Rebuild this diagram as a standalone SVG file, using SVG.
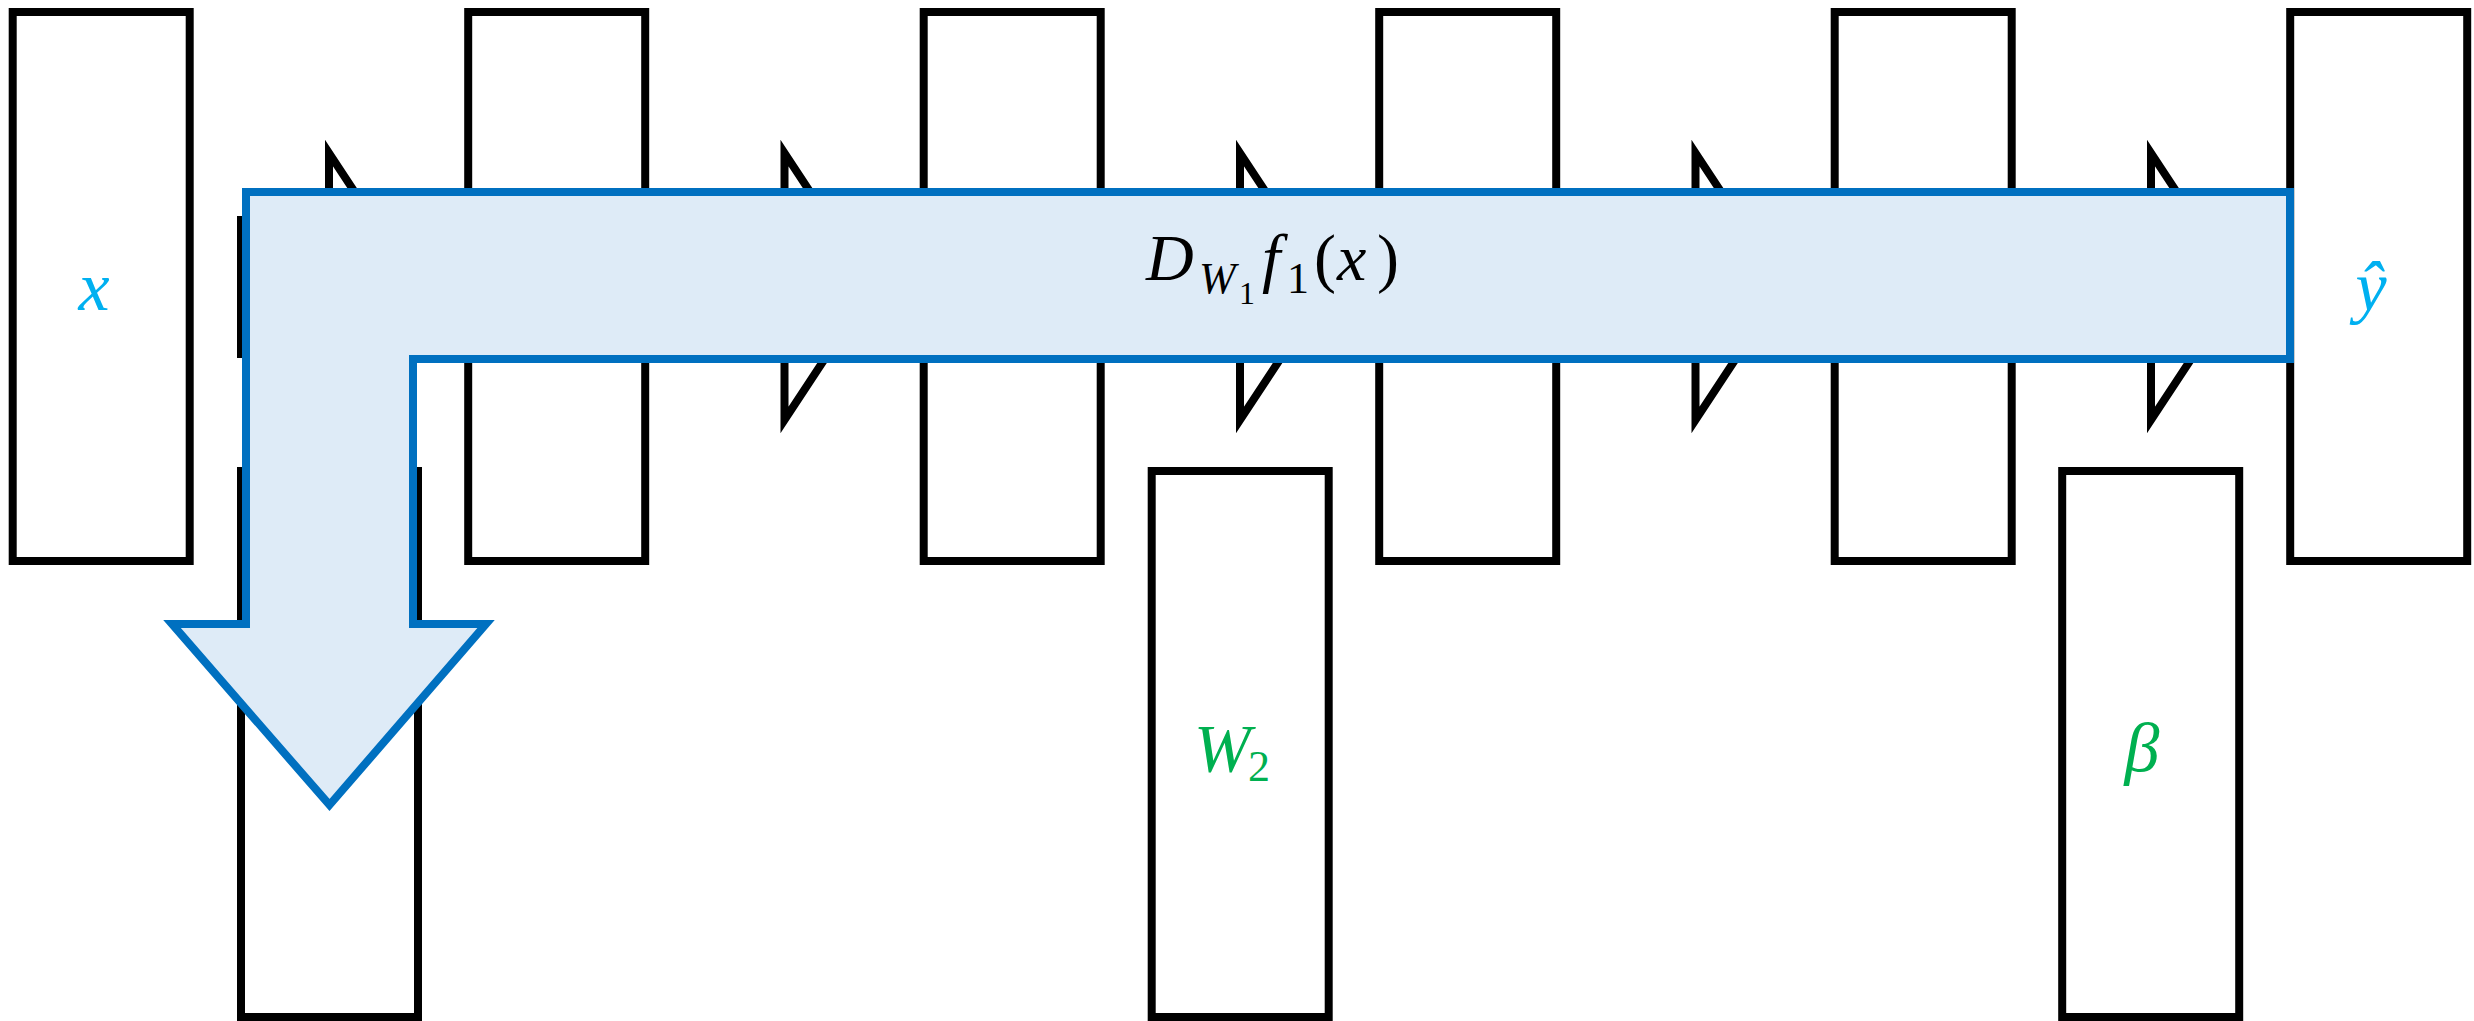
<svg xmlns="http://www.w3.org/2000/svg" width="2474" height="1021" viewBox="0 0 2474 1021">
  <style>
    .box { fill: #FFFFFF; stroke: #000000; stroke-width: 8; }
    .tri { fill: #FFFFFF; stroke: #000000; stroke-width: 8; stroke-linejoin: miter; stroke-miterlimit: 10; }
    .band { fill: #DEEBF7; stroke: #0070C0; stroke-width: 8; stroke-linejoin: miter; stroke-miterlimit: 10; }
    .math { font-family: "Liberation Serif", "DejaVu Serif", serif; font-style: italic; }
    .up { font-style: normal; }
    .blue { fill: #00B0F0; }
    .green { fill: #00B050; }
    .black { fill: #000000; }
  </style>

  <g id="node-x">
    <rect class="box" x="12.7" y="12" width="177" height="549"/>
    <text class="math blue" x="94" y="310" font-size="70" text-anchor="middle">x</text>
  </g>
  <g id="node-h1">
    <rect class="box" x="468.2" y="12" width="177" height="549"/>
  </g>
  <g id="node-h2">
    <rect class="box" x="923.7" y="12" width="177" height="549"/>
  </g>
  <g id="node-h3">
    <rect class="box" x="1379.2" y="12" width="177" height="549"/>
  </g>
  <g id="node-h4">
    <rect class="box" x="1834.7" y="12" width="177" height="549"/>
  </g>
  <g id="node-yhat">
    <rect class="box" x="2290.2" y="12" width="177" height="549"/>
    <text class="math blue" x="2371" y="310" font-size="70" text-anchor="middle">ŷ</text>
  </g>

  <g id="node-hidden">
    <rect class="box" x="241" y="220" width="177" height="134"/>
  </g>

  <g id="op-1"><polygon class="tri" points="329,153 329,420 417,286.5"/></g>
  <g id="op-2"><polygon class="tri" points="784.5,153 784.5,420 872.5,286.5"/></g>
  <g id="op-3"><polygon class="tri" points="1240,153 1240,420 1328,286.5"/></g>
  <g id="op-4"><polygon class="tri" points="1695.5,153 1695.5,420 1783.5,286.5"/></g>
  <g id="op-5"><polygon class="tri" points="2151,153 2151,420 2239,286.5"/></g>

  <g id="node-W1">
    <rect class="box" x="241" y="471" width="177" height="546"/>
  </g>
  <g id="node-W2">
    <rect class="box" x="1151.7" y="471" width="177" height="546"/>
    <text class="math green" font-size="68"><tspan x="1194" y="771">W</tspan><tspan class="up" x="1248" y="781" font-size="44">2</tspan></text>
  </g>
  <g id="node-beta">
    <rect class="box" x="2062.2" y="471" width="177" height="546"/>
    <text class="math green" x="2142" y="771" font-size="70" text-anchor="middle">β</text>
  </g>

  <g id="connectors">
    <path class="band" d="M246,192 H2290 V359 H413 V624 H486 L329.5,805 L172,624 H246 Z"/>
    <text class="math black" font-size="66"><tspan x="1146" y="280">D</tspan><tspan x="1199" y="293" font-size="44">W</tspan><tspan class="up" x="1239" y="304" font-size="32">1</tspan><tspan x="1262" y="280">f</tspan><tspan class="up" x="1287" y="293" font-size="44">1</tspan><tspan class="up" x="1314" y="280">(</tspan><tspan x="1337" y="280">x</tspan><tspan class="up" x="1377" y="280">)</tspan></text>
  </g>
</svg>
